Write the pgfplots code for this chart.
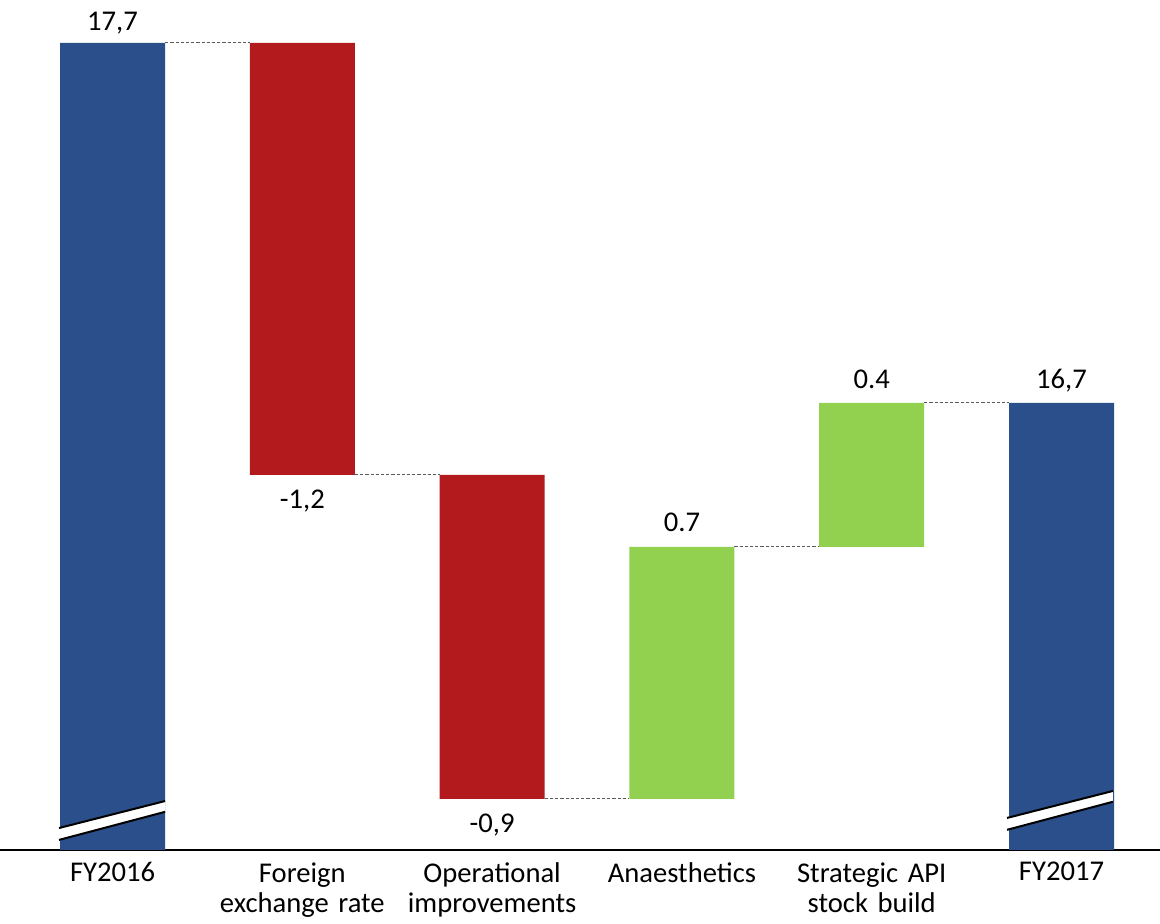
\documentclass[border=0pt]{standalone}
\usepackage{pgfplots}
\pgfplotsset{compat=1.18}
\usepackage{fontspec}
\setmainfont{Carlito}
\definecolor{cblue}{RGB}{43,79,138}
\definecolor{cred}{RGB}{178,26,30}
\definecolor{cgreen}{RGB}{146,208,80}
\definecolor{cdash}{RGB}{90,90,90}
\newcommand{\lblfont}{\fontsize{14.3}{15}\selectfont}
\tikzset{vlab/.style={font=\lblfont, inner sep=0pt, anchor=base}, conn/.style={cdash, line width=0.6pt, dash pattern=on 1.6pt off 1pt}}
\begin{document}
\begin{tikzpicture}
\begin{axis}[name=ax,
  scale only axis, width=580pt, height=425pt,
  xmin=-0.593, xmax=5.519, ymin=15.458, ymax=17.819,
  ybar stacked, bar width=52.5pt,
  axis x line=bottom, axis line style={line width=1.1pt, -},
  hide y axis,
  xtick={0,1,2,3,4,5}, major tick length=0pt,
  xticklabels={{FY2016},{Foreign\\exchange rate},{Operational\\improvements},{Anaesthetics},{Strategic API\\stock build},{FY2017}},
  xticklabel style={font=\lblfont, align=center, text width=90pt, inner sep=0pt, anchor=north, yshift=-6pt},
  clip=true, clip mode=individual,
]
\addplot[draw=none, fill=white, fill opacity=0] coordinates {(0,0) (1,16.5) (2,15.6) (3,15.6) (4,16.3) (5,0)};
\addplot[draw=none, fill=cblue] coordinates {(0,17.7) (1,0) (2,0) (3,0) (4,0) (5,16.7)};
\addplot[draw=none, fill=cred] coordinates {(0,0) (1,1.2) (2,0.9) (3,0) (4,0) (5,0)};
\addplot[draw=none, fill=cgreen] coordinates {(0,0) (1,0) (2,0) (3,0.7) (4,0.4) (5,0)};

\draw[conn] (axis cs:0.277,17.7) -- (axis cs:0.723,17.7);
\draw[conn] (axis cs:1.277,16.5) -- (axis cs:1.723,16.5);
\draw[conn] (axis cs:2.277,15.6) -- (axis cs:2.723,15.6);
\draw[conn] (axis cs:3.277,16.3) -- (axis cs:3.723,16.3);
\draw[conn] (axis cs:4.277,16.7) -- (axis cs:4.723,16.7);

\coordinate (a1) at (axis cs:-0.282,15.519);
\coordinate (a2) at (axis cs:0.277,15.594);
\coordinate (a3) at (axis cs:0.277,15.564);
\coordinate (a4) at (axis cs:-0.282,15.486);
\coordinate (b1) at (axis cs:4.713,15.547);
\coordinate (b2) at (axis cs:5.271,15.622);
\coordinate (b3) at (axis cs:5.271,15.592);
\coordinate (b4) at (axis cs:4.713,15.514);

\node[vlab] at ([yshift=6pt]axis cs:0,17.7) {17,7};
\node[vlab] at ([yshift=-17pt]axis cs:1,16.5) {-1,2};
\node[vlab] at ([yshift=-17pt]axis cs:2,15.6) {-0,9};
\node[vlab] at ([yshift=7.5pt]axis cs:3,16.3) {0.7};
\node[vlab] at ([yshift=7pt]axis cs:4,16.7) {0.4};
\node[vlab] at ([yshift=7pt]axis cs:5,16.7) {16,7};
\end{axis}
\fill[white] (a1) -- (a2) -- (a3) -- (a4) -- cycle;
\draw[black, line width=1pt] (a1) -- (a2) (a4) -- (a3);
\fill[white] (b1) -- (b2) -- (b3) -- (b4) -- cycle;
\draw[black, line width=1pt] (b1) -- (b2) (b4) -- (b3);
\pgfresetboundingbox
\useasboundingbox (ax.south west) ++(0,-37pt) rectangle (ax.north east);
\end{tikzpicture}
\end{document}
